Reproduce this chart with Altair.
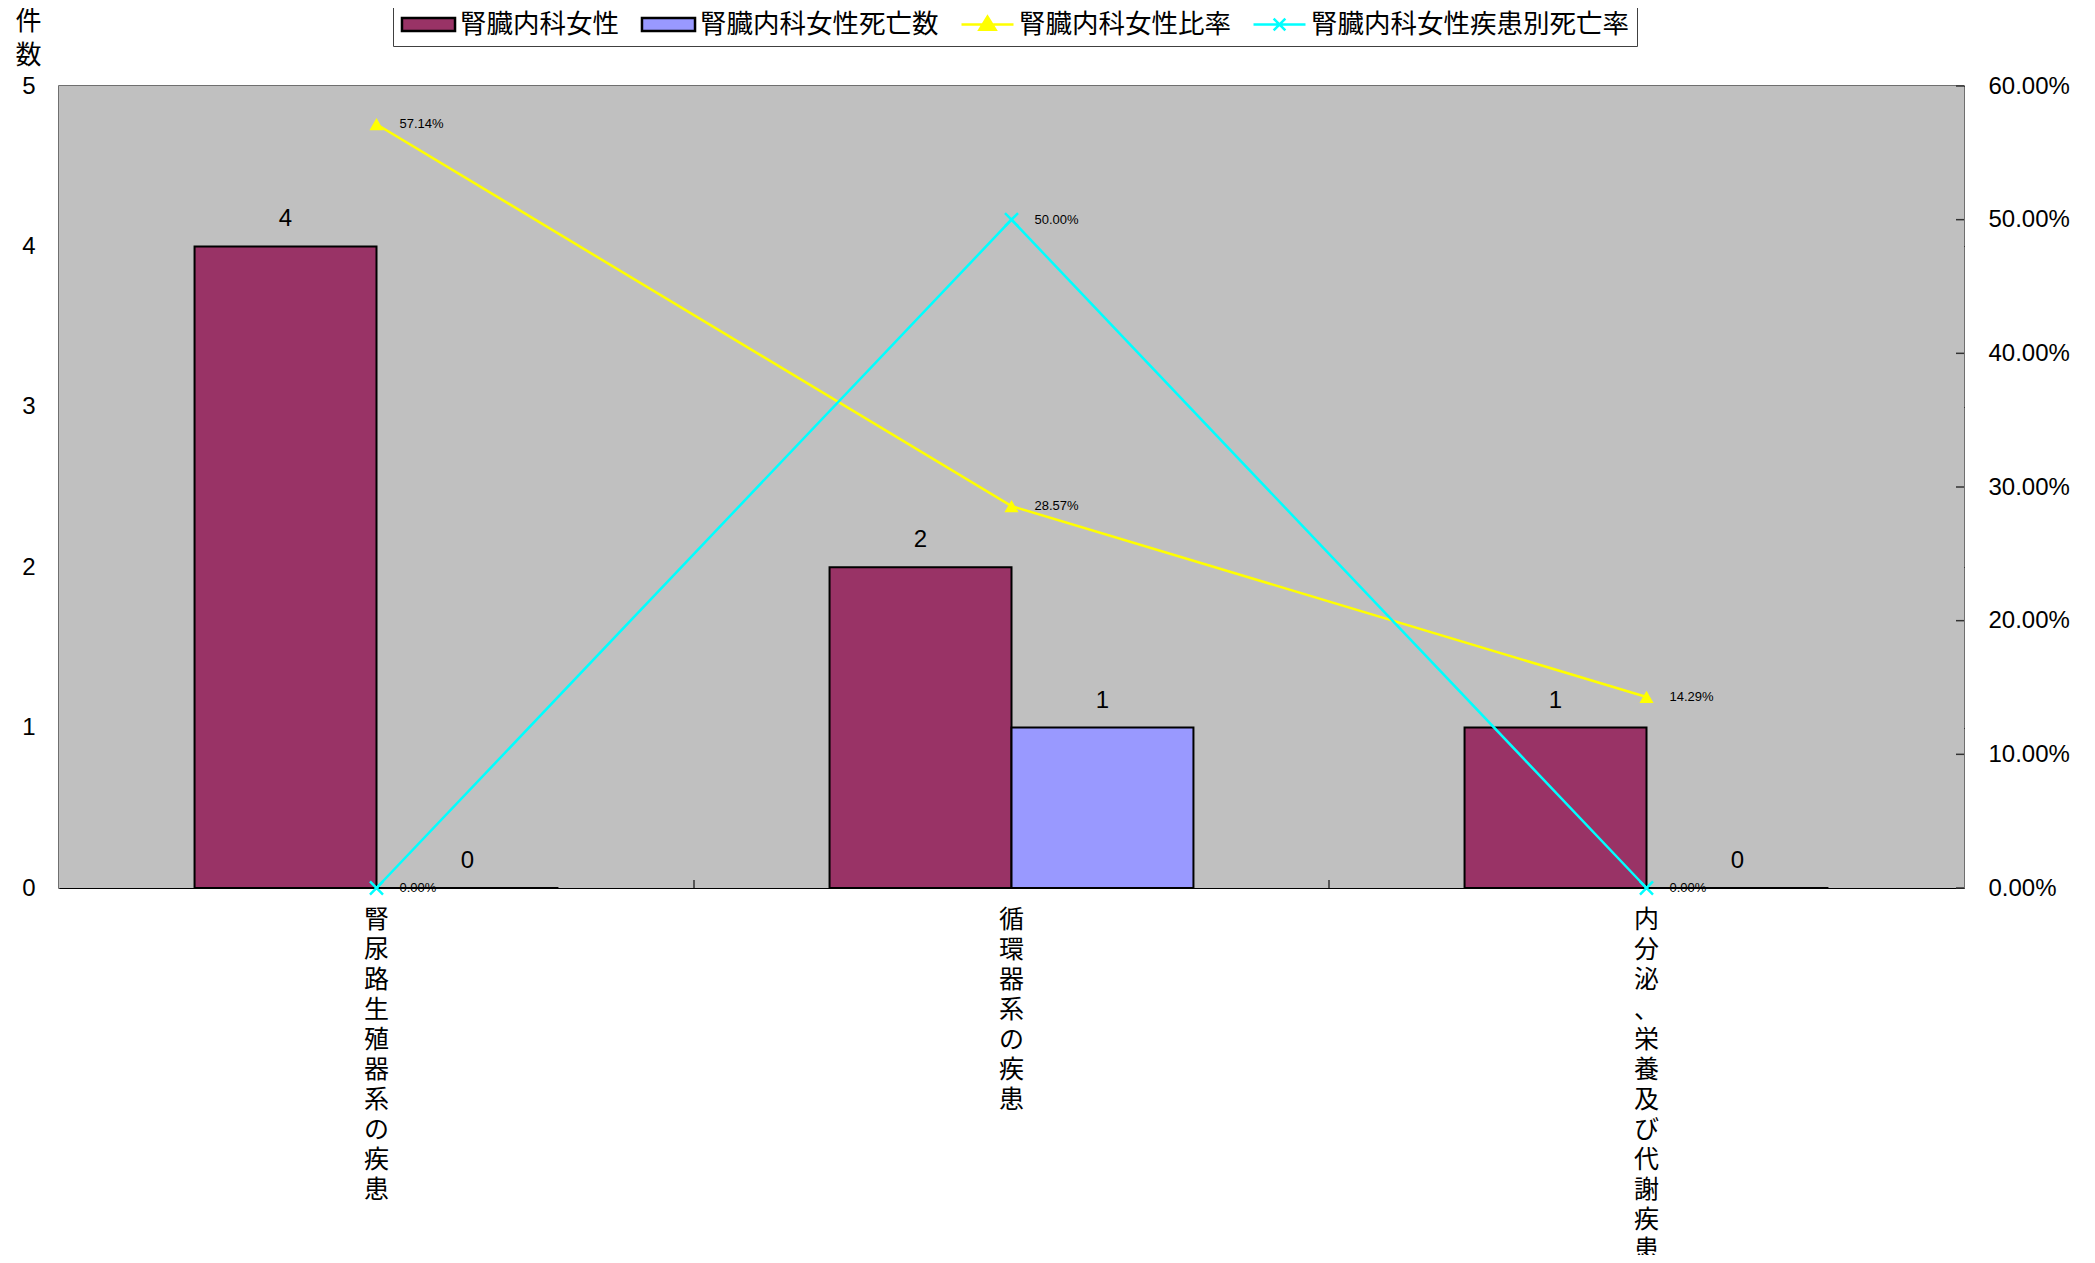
import altair as alt
import pandas as pd

# ---- data ----
categories = ["腎尿路生殖器系の疾患", "循環器系の疾患", "内分泌、栄養及び代謝疾患"]
series_names = ["腎臓内科女性", "腎臓内科女性死亡数", "腎臓内科女性比率", "腎臓内科女性疾患別死亡率"]
female_counts = [4, 2, 1]
female_deaths = [0, 1, 0]
female_ratio = [0.5714, 0.2857, 0.1429]
female_death_rate = [0.0, 0.5, 0.0]
left_ticks = [0, 1, 2, 3, 4, 5]
right_ticks = [0.0, 0.1, 0.2, 0.3, 0.4, 0.5, 0.6]

# ---- style ----
series_fill = ["#993366", "#9999FF", "#FFFF00", "#00FFFF"]
series_stroke = ["#000000", "#000000", "#FFFF00", "#00FFFF"]
legend_shapes = [
    "M-2.04,-0.5H2.04V0.5H-2.04Z",
    "M-2.04,-0.5H2.04V0.5H-2.04Z",
    "M-2,0H2M0,-0.6L0.62,0.4H-0.62Z",
    "M-2,0H2M-0.45,-0.45L0.45,0.45M-0.45,0.45L0.45,-0.45",
]
W, H = 1905, 802
NUM_FONT = "Liberation Sans"
JP_FONT = "Noto Sans CJK JP"

bars_df = pd.DataFrame(
    [{"cat": c, "series": series_names[0], "value": v} for c, v in zip(categories, female_counts)]
    + [{"cat": c, "series": series_names[1], "value": v} for c, v in zip(categories, female_deaths)]
)
lines_df = pd.DataFrame(
    [{"cat": c, "series": series_names[2], "rate": v} for c, v in zip(categories, female_ratio)]
    + [{"cat": c, "series": series_names[3], "rate": v} for c, v in zip(categories, female_death_rate)]
)
labels_df = pd.DataFrame({"cat": categories, "vlabel": ["\n".join(list(c)) for c in categories]})
bounds_df = pd.DataFrame({"cat": categories[1:]})
rticks_df = pd.DataFrame({"rate": right_ticks})
legend_df = pd.DataFrame({"series": series_names})
bg_df = pd.DataFrame({"k": [0]})

fill_scale = alt.Scale(domain=series_names, range=series_fill)
stroke_scale = alt.Scale(domain=series_names, range=series_stroke)
shape_scale = alt.Scale(domain=series_names, range=legend_shapes)

x_scale = alt.Scale(domain=categories, paddingInner=0, paddingOuter=0)
x_enc = alt.X("cat:N", scale=x_scale, axis=None)
xoff_enc = alt.XOffset("series:N", scale=alt.Scale(domain=series_names[:2], paddingInner=0, paddingOuter=0.745))

y_left = alt.Y(
    "value:Q",
    scale=alt.Scale(domain=[0, 5], nice=False, zero=True),
    axis=alt.Axis(
        values=left_ticks, format="d", grid=True, gridColor="#000000", gridWidth=1,
        ticks=False, domain=False, labelFont=NUM_FONT, labelFontSize=24, labelColor="black",
        labelPadding=24, title=["件", "数"], titleAngle=0, titleAlign="center",
        titleBaseline="top", titleX=-31, titleY=-78, titleFont=JP_FONT, titleFontSize=26,
        titleFontWeight="normal", titleLineHeight=34, titleColor="black",
    ),
)
y_right = alt.Y(
    "rate:Q",
    scale=alt.Scale(domain=[0, 0.6], nice=False, zero=True),
    axis=alt.Axis(
        orient="right", values=right_ticks, format=".2%", grid=False, ticks=False, domain=False,
        labelFont=NUM_FONT, labelFontSize=24, labelColor="black", labelPadding=24, title=None,
    ),
)

legend_def = alt.Legend(
    title=None, orient="none", legendX=334, legendY=-84, direction="horizontal", columns=4,
    symbolSize=676, symbolStrokeWidth=2.5, symbolOffset=13, labelFont=JP_FONT, labelFontSize=26.5,
    labelColor="black", labelOffset=17, labelLimit=600, columnPadding=17, padding=8,
    strokeColor="#404040", fillColor="white",
)

# legend-only layer (draws nothing, carries the merged legend); must come first
legend_layer = alt.Chart(legend_df).transform_filter("false").mark_point(
    filled=True, opacity=1, strokeWidth=2.5
).encode(
    fill=alt.Fill("series:N", scale=fill_scale, legend=legend_def),
    stroke=alt.Stroke("series:N", scale=stroke_scale, legend=legend_def),
    shape=alt.Shape("series:N", scale=shape_scale, legend=legend_def),
)

# plot-area background
bg = alt.Chart(bg_df).mark_rect(color="#C0C0C0").encode(
    x=alt.value(0), x2=alt.value(W), y=alt.value(0), y2=alt.value(H)
)

bars = alt.Chart(bars_df).mark_bar(strokeWidth=2).encode(
    x=x_enc, xOffset=xoff_enc, y=y_left,
    fill=alt.Fill("series:N", scale=fill_scale, legend=None),
    stroke=alt.Stroke("series:N", scale=stroke_scale, legend=None),
)
bar_text = alt.Chart(bars_df).mark_text(
    font=NUM_FONT, fontSize=24, baseline="alphabetic", dy=-20, color="black"
).encode(x=x_enc, xOffset=xoff_enc, y=y_left, text=alt.Text("value:Q", format="d"))
xlabels = alt.Chart(labels_df).mark_text(
    font=JP_FONT, fontSize=25, lineHeight=30, lineBreak="\n", baseline="top", align="center", color="black"
).encode(x=x_enc, y=alt.value(H + 20), text="vlabel:N")
band_ticks = alt.Chart(bounds_df).mark_rule(color="#333333", strokeWidth=1.5).encode(
    x=alt.X("cat:N", scale=x_scale, axis=None, bandPosition=0),
    y=alt.value(H - 8), y2=alt.value(H),
)

left_group = alt.layer(bars, bar_text, xlabels, band_ticks)

lines = alt.Chart(lines_df).mark_line(strokeWidth=2.5).encode(
    x=x_enc, y=y_right, stroke=alt.Stroke("series:N", scale=stroke_scale, legend=None)
)
tri = alt.Chart(lines_df).transform_filter(alt.datum.series == series_names[2]).mark_point(
    shape="triangle-up", filled=True, size=200, color="#FFFF00", opacity=1
).encode(x=x_enc, y=y_right)
crs = alt.Chart(lines_df).transform_filter(alt.datum.series == series_names[3]).mark_point(
    shape="M-1,-1L1,1M-1,1L1,-1", filled=False, size=170, stroke="#00FFFF", strokeWidth=2.5, opacity=1
).encode(x=x_enc, y=y_right)
pct = alt.Chart(lines_df).mark_text(
    font=NUM_FONT, fontSize=13, align="left", baseline="middle", dx=23, color="black"
).encode(x=x_enc, y=y_right, text=alt.Text("rate:Q", format=".2%"))
rticks = alt.Chart(rticks_df).mark_rule(color="#333333", strokeWidth=1.5).encode(
    x=alt.value(W - 8), x2=alt.value(W), y=y_right
)

right_group = alt.layer(rticks, lines, tri, crs, pct)

chart = (
    alt.layer(legend_layer, bg, left_group, right_group)
    .resolve_scale(y="independent")
    .properties(
        width=W, height=H,
        autosize=alt.AutoSizeParams(type="none"),
        padding={"left": 51, "top": 78, "right": 123, "bottom": 367},
        background="white",
    )
    .configure_view(fill="#C0C0C0", stroke="#404040", strokeWidth=1.5)
)

chart.save("out.html", embed_options={"renderer": "svg", "actions": False})
